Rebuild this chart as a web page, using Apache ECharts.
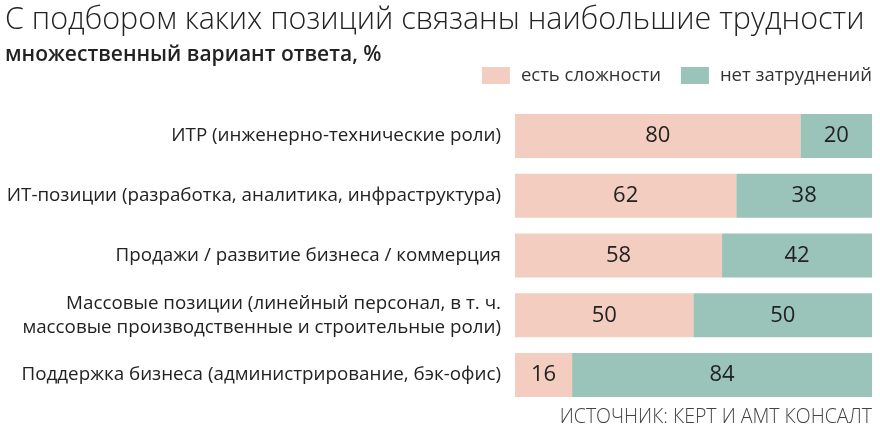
<!DOCTYPE html>
<html><head><meta charset="utf-8">
<script src="https://cdn.jsdelivr.net/npm/echarts@6/dist/echarts.min.js"></script>
<style>html,body{margin:0;padding:0;background:#fff}#c{width:880px;height:439px}</style>
</head><body><div id="c"></div>
<script>
const categories = [
  "ИТР (инженерно-технические роли)",
  "ИТ-позиции (разработка, аналитика, инфраструктура)",
  "Продажи / развитие бизнеса / коммерция",
  "Массовые позиции (линейный персонал, в т. ч.\nмассовые производственные и строительные роли)",
  "Поддержка бизнеса (администрирование, бэк-офис)"
];
const difficulties = [80, 62, 58, 50, 16];
const noDifficulties = [20, 38, 42, 50, 84];
const seriesNames = ["есть сложности", "нет затруднений"];

const chart = echarts.init(document.getElementById('c'));
const font = "'Open Sans', 'Noto Sans', sans-serif";
chart.setOption({
  animation: false,
  textStyle: {fontFamily: font},
  title: [
    {text: "С подбором каких позиций связаны наибольшие трудности", left: 5, top: 5, padding: 0,
     textStyle: {fontFamily: font, fontSize: 30.5, fontWeight: 300, color: '#222'}},
    {text: "множественный вариант ответа, %", left: 5, top: 45, padding: 0,
     textStyle: {fontFamily: font, fontSize: 21, fontWeight: 600, color: '#222'}},
    {text: "ИСТОЧНИК: КЕРТ И АМТ КОНСАЛТ", right: 8, top: 407, padding: 0,
     textStyle: {fontFamily: font, fontSize: 19.5, fontWeight: 300, color: '#444'}}
  ],
  legend: {
    right: 8, top: 66, itemWidth: 28, itemHeight: 17, itemGap: 20, padding: 0,
    icon: 'rect',
    textStyle: {fontFamily: font, fontSize: 18.5, color: '#333', padding: [0, 0, 0, 6]},
    data: seriesNames
  },
  grid: {left: 515, right: 8, top: 106, bottom: 34, containLabel: false},
  xAxis: {type: 'value', min: 0, max: 100, show: false},
  yAxis: {
    type: 'category', data: categories, inverse: true,
    axisLine: {show: false}, axisTick: {show: false},
    axisLabel: {fontFamily: font, fontSize: 18.8, color: '#222', margin: 14, align: 'right', lineHeight: 24}
  },
  series: [
    {name: seriesNames[0], type: 'bar', stack: 's', data: difficulties, barWidth: 44,
     itemStyle: {color: '#F3CEC0'},
     label: {show: true, position: 'inside', fontFamily: font, fontSize: 22, color: '#222'}},
    {name: seriesNames[1], type: 'bar', stack: 's', data: noDifficulties, barWidth: 44,
     itemStyle: {color: '#9AC4B9'},
     label: {show: true, position: 'inside', fontFamily: font, fontSize: 22, color: '#222'}}
  ]
});
</script></body></html>
